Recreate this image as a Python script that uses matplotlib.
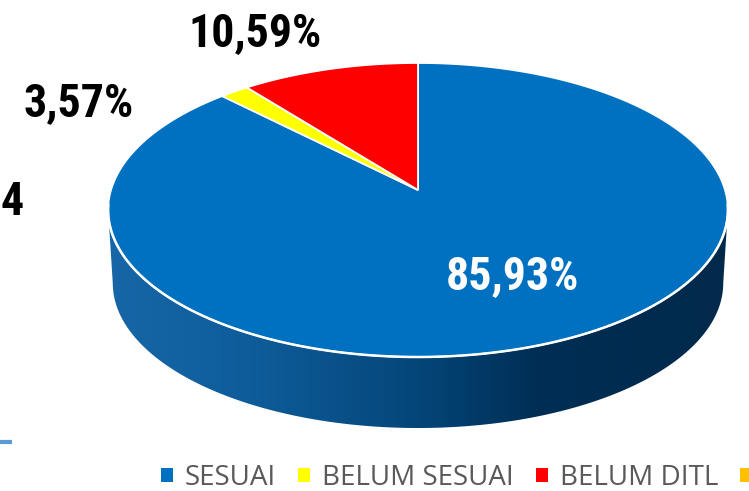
import numpy as np
import matplotlib
matplotlib.use('Agg')
import matplotlib.pyplot as plt
from matplotlib.patches import Polygon, Patch
from matplotlib.colors import LinearSegmentedColormap
from matplotlib import font_manager

# ---------------- data ----------------
categories = ['SESUAI', 'BELUM SESUAI', 'BELUM DITL', '']
values = [87.66, 1.75, 10.59, 0.0]          # slice shares as drawn in the picture
pct_labels = ['85,93%', '3,57%', '10,59%']
colors = ['#0070C0', '#FFFF00', '#FF0000', '#FFC000']
side_stops = {
    '#0070C0': [(0.0, '#1767a8'), (0.24, '#0e5c9a'), (0.50, '#044679'),
                (0.69, '#002e55'), (1.0, '#00294a')],
}

# choose a condensed bold face if one is installed
installed = {f.name for f in font_manager.fontManager.ttflist}
narrow = [n for n in ['Liberation Sans Narrow', 'Arial Narrow', 'Noto Sans Condensed',
                      'Roboto Condensed', 'Open Sans Condensed', 'DejaVu Sans Condensed']
          if n in installed]
if narrow:
    lab_font = dict(family=[narrow[0], 'DejaVu Sans'], weight='bold', size=33)
    if narrow[0] == 'DejaVu Sans Condensed':
        lab_font['size'] = 28
else:
    lab_font = dict(family=['Liberation Sans', 'DejaVu Sans'], weight='bold', size=28)

# ---------------- figure ----------------
W, H = 749, 491
fig = plt.figure(figsize=(W / 100, H / 100), dpi=100)
ax = fig.add_axes([0, 0, 1, 1])

# projection of the tilted disc (with a little perspective)
CX, CY, A, B, K = 418, 190, 307, 144.3, 0.136
S, D = 0.985, 73.5


def proj(theta_deg, scale=1.0, dy=0.0):
    t = np.radians(theta_deg)
    den = 1 + K * np.sin(t)
    x = CX + A * scale * np.cos(t) / den
    y = CY + dy - B * scale * np.sin(t) / den
    return x, y


VL = 180 + np.degrees(np.arcsin(K))
VR = 360 - np.degrees(np.arcsin(K))

total = sum(values)
start = 90.0
slices = []
for v, c in zip(values, colors):
    span = 360.0 * v / total
    slices.append((start - span, start, c))
    start -= span

# side walls
for t1, t2, c in slices:
    if t2 - t1 <= 0:
        continue
    for shift in (-360, 0, 360):
        lo = max(t1 + shift, VL)
        hi = min(t2 + shift, VR)
        if hi <= lo:
            continue
        th = np.linspace(lo, hi, 200)
        xt, yt = proj(th)
        xb, yb = proj(th[::-1], S, D)
        pts = np.column_stack([np.r_[xt, xb], np.r_[yt, yb]])
        patch = Polygon(pts, closed=True, facecolor='none', edgecolor='none', zorder=1)
        ax.add_patch(patch)
        stops = side_stops.get(c, [(0, c), (1, 'black')])
        cmap = LinearSegmentedColormap.from_list('side', stops)
        grad = np.linspace(0, 1, 256).reshape(1, -1)
        im = ax.imshow(grad, cmap=cmap, extent=[100, 735, 435, 180],
                       aspect='auto', zorder=1, interpolation='bilinear')
        im.set_clip_path(patch)

# top surface wedges
for t1, t2, c in slices:
    if t2 - t1 <= 0:
        continue
    th = np.linspace(t1, t2, 300)
    x, y = proj(th)
    pts = np.column_stack([np.r_[CX, x], np.r_[CY, y]])
    ax.add_patch(Polygon(pts, closed=True, facecolor=c, edgecolor='white',
                         linewidth=1.3, joinstyle='miter', zorder=2))

# white rim at the front edge
th = np.linspace(VL - 2, VR + 2, 300)
ax.plot(*proj(th), color='white', lw=1.8, zorder=3)

# ---------------- labels ----------------
ax.text(512, 289, pct_labels[0], color='white', ha='center', va='baseline', zorder=5, **lab_font)
ax.text(79, 116, pct_labels[1], color='black', ha='center', va='baseline', zorder=5, **lab_font)
ax.text(255, 46, pct_labels[2], color='black', ha='center', va='baseline', zorder=5, **lab_font)
ax.text(0, 215, '4', color='black', ha='left', va='baseline', zorder=5, **lab_font)

# small blue stroke at lower left
ax.plot([0, 12], [442, 442], color='#5B9BD5', lw=3, solid_capstyle='butt', zorder=5)

# ---------------- legend ----------------
handles = [Patch(facecolor=c, edgecolor='none') for c in colors]
leg = ax.legend(handles, categories, loc='center left', bbox_to_anchor=(161, 478),
                bbox_transform=ax.transData, ncol=4, frameon=False,
                prop=dict(family=['Open Sans', 'DejaVu Sans'], size=20),
                handlelength=0.43, handleheight=0.43, handletextpad=0.43,
                columnspacing=0.79, borderpad=0, borderaxespad=0,
                labelcolor='#595959')

ax.set_xlim(0, W)
ax.set_ylim(H, 0)
ax.axis('off')
fig.savefig('out.png', dpi=100)
